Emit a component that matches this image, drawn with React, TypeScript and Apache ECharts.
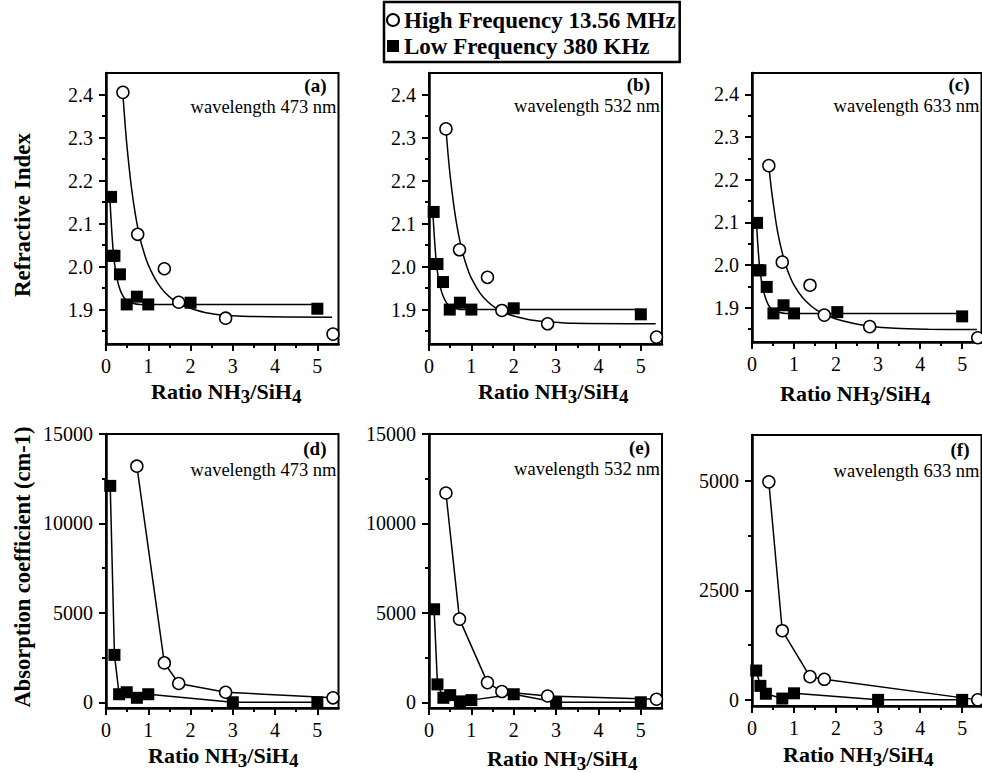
import React, { useEffect, useRef } from 'react';
import * as echarts from 'echarts';

const FONT = "'Liberation Serif', 'Times New Roman', serif";
const HF_NAME = 'High Frequency 13.56 MHz';
const LF_NAME = 'Low Frequency 380 KHz';

// tick values
const X_TICKS = [0, 1, 2, 3, 4, 5];
const X_MINOR = [0.5, 1.5, 2.5, 3.5, 4.5];
const RI_TICKS = [1.9, 2.0, 2.1, 2.2, 2.3, 2.4];
const RI_MINOR = [1.85, 1.95, 2.05, 2.15, 2.25, 2.35];
const ABS_TICKS = [0, 5000, 10000, 15000];
const ABS_MINOR = [2500, 7500, 12500];
const ABS_F_TICKS = [0, 2500, 5000];
const ABS_F_MINOR = [1250, 3750];

// (a) refractive index, 473 nm
const A_HF = [[0.4, 2.405], [0.75, 2.075], [1.38, 1.995], [1.72, 1.917], [2.83, 1.88], [5.37, 1.843]];
const A_HF_FIT = [[0.4, 2.4], [0.45, 2.333], [0.5, 2.276], [0.6, 2.185], [0.7, 2.118], [0.8, 2.068], [0.9, 2.032], [1.0, 2.004], [1.2, 1.965], [1.4, 1.939], [1.6, 1.922], [1.8, 1.91], [2.0, 1.903], [2.4, 1.892], [2.8, 1.887], [3.4, 1.884], [5.35, 1.882]];
const A_LF = [[0.12, 2.162], [0.14, 2.025], [0.2, 2.025], [0.33, 1.982], [0.49, 1.912], [0.73, 1.93], [1.0, 1.912], [2.0, 1.916], [5.0, 1.902]];
const A_LF_FIT = [[0.09, 2.162], [0.13, 2.092], [0.175, 2.03], [0.22, 1.995], [0.27, 1.968], [0.33, 1.947], [0.41, 1.93], [0.5, 1.92], [0.65, 1.914], [0.8, 1.912], [5.0, 1.912]];

// (b) refractive index, 532 nm
const B_HF = [[0.4, 2.32], [0.72, 2.039], [1.38, 1.975], [1.72, 1.898], [2.8, 1.867], [5.37, 1.836]];
const B_HF_FIT = [[0.4, 2.32], [0.45, 2.261], [0.5, 2.211], [0.6, 2.132], [0.7, 2.073], [0.8, 2.03], [0.9, 1.998], [1.0, 1.973], [1.2, 1.939], [1.4, 1.917], [1.6, 1.902], [1.8, 1.892], [2.0, 1.885], [2.4, 1.876], [2.8, 1.872], [3.4, 1.868], [5.35, 1.867]];
const B_LF = [[0.11, 2.127], [0.14, 2.006], [0.2, 2.006], [0.33, 1.964], [0.49, 1.9], [0.73, 1.916], [1.0, 1.9], [2.0, 1.903], [5.0, 1.889]];
const B_LF_FIT = [[0.09, 2.127], [0.13, 2.063], [0.175, 2.007], [0.22, 1.975], [0.27, 1.951], [0.33, 1.932], [0.41, 1.916], [0.5, 1.907], [0.65, 1.902], [0.8, 1.9], [5.0, 1.9]];

// (c) refractive index, 633 nm
const C_HF = [[0.4, 2.233], [0.72, 2.007], [1.38, 1.953], [1.72, 1.883], [2.8, 1.856], [5.37, 1.83]];
const C_HF_FIT = [[0.4, 2.233], [0.45, 2.187], [0.5, 2.149], [0.6, 2.083], [0.7, 2.037], [0.8, 2.001], [0.9, 1.974], [1.0, 1.953], [1.2, 1.924], [1.4, 1.905], [1.6, 1.891], [1.8, 1.882], [2.0, 1.874], [2.4, 1.864], [2.8, 1.857], [3.4, 1.852], [4.2, 1.85], [5.35, 1.849]];
const C_LF = [[0.12, 2.099], [0.14, 1.988], [0.2, 1.988], [0.35, 1.949], [0.51, 1.887], [0.75, 1.906], [1.0, 1.887], [2.03, 1.89], [5.0, 1.88]];
const C_LF_FIT = [[0.1, 2.108], [0.14, 2.046], [0.185, 1.991], [0.23, 1.96], [0.28, 1.937], [0.34, 1.918], [0.42, 1.902], [0.51, 1.894], [0.66, 1.889], [0.8, 1.887], [5.0, 1.887]];

// (d) absorption, 473 nm
const D_HF = [[0.73, 13200], [1.38, 2200], [1.72, 1050], [2.83, 560], [5.37, 250]];
const D_LF = [[0.1, 12100], [0.2, 2650], [0.31, 450], [0.49, 560], [0.73, 250], [1.0, 450], [3.0, 0], [5.0, 0]];

// (e) absorption, 532 nm
const E_HF = [[0.4, 11700], [0.72, 4650], [1.38, 1100], [1.72, 600], [2.8, 350], [5.37, 170]];
const E_LF = [[0.12, 5200], [0.2, 1000], [0.34, 250], [0.5, 400], [0.73, 50], [1.0, 120], [2.0, 450], [3.0, 0], [5.0, 0]];

// (f) absorption, 633 nm
const F_HF = [[0.4, 4980], [0.72, 1580], [1.38, 530], [1.72, 470], [5.37, 0]];
const F_LF = [[0.1, 670], [0.2, 320], [0.33, 140], [0.72, 30], [1.0, 150], [3.0, 0], [5.0, 0]];

const PANEL_TAGS = ['(a)', '(b)', '(c)', '(d)', '(e)', '(f)'];
const WAVELENGTHS = ['wavelength 473 nm', 'wavelength 532 nm', 'wavelength 633 nm', 'wavelength 473 nm', 'wavelength 532 nm', 'wavelength 633 nm'];

const LAYOUT = [
  { left: 106, top: 73, right: 338.5, bottom: 344, xMax: 5.5, tx: 151, ty: 391, tagDy: 12, wlDy: 34 },
  { left: 429, top: 73, right: 662, bottom: 344, xMax: 5.5, tx: 478, ty: 391, tagDy: 11, wlDy: 33 },
  { left: 752, top: 73, right: 981.5, bottom: 342, xMax: 5.46, tx: 780, ty: 393, tagDy: 11, wlDy: 33 },
  { left: 106, top: 434, right: 338.5, bottom: 708, xMax: 5.5, tx: 148, ty: 755, tagDy: 14, wlDy: 36 },
  { left: 429, top: 434, right: 662, bottom: 708, xMax: 5.5, tx: 487, ty: 758, tagDy: 13, wlDy: 35 },
  { left: 752, top: 435, right: 981.5, bottom: 706, xMax: 5.46, tx: 783, ty: 754, tagDy: 14, wlDy: 36 },
];

const Y_CFG = [
  { min: 1.82, max: 2.45, ticks: RI_TICKS, minor: RI_MINOR, fmt: (v: number) => v.toFixed(1) },
  { min: 1.82, max: 2.45, ticks: RI_TICKS, minor: RI_MINOR, fmt: (v: number) => v.toFixed(1) },
  { min: 1.82, max: 2.45, ticks: RI_TICKS, minor: RI_MINOR, fmt: (v: number) => v.toFixed(1) },
  { min: -320, max: 15000, ticks: ABS_TICKS, minor: ABS_MINOR, fmt: (v: number) => String(Math.round(v)) },
  { min: -320, max: 15000, ticks: ABS_TICKS, minor: ABS_MINOR, fmt: (v: number) => String(Math.round(v)) },
  { min: -140, max: 6050, ticks: ABS_F_TICKS, minor: ABS_F_MINOR, fmt: (v: number) => String(Math.round(v)) },
];

const HF_STYLE = { color: '#fff', borderColor: '#000', borderWidth: 1.5, opacity: 1 };
const LF_STYLE = { color: '#000', borderColor: '#000', borderWidth: 0, opacity: 1 };

function buildOption() {
  const grid: any[] = [];
  const xAxis: any[] = [];
  const yAxis: any[] = [];
  const series: any[] = [];
  const graphic: any[] = [];

  LAYOUT.forEach((p, i) => {
    const yc = Y_CFG[i];
    grid.push({
      left: p.left, top: p.top, width: p.right - p.left, height: p.bottom - p.top,
      show: true, borderColor: '#000', borderWidth: 2, backgroundColor: 'transparent',
    });
    const labelStyle = { fontFamily: FONT, fontSize: 20, color: '#000' };
    xAxis.push({
      gridIndex: i, type: 'value', min: 0, max: p.xMax, position: 'bottom',
      axisLine: { show: true, onZero: false, lineStyle: { color: '#000', width: 2.5 } },
      axisTick: { show: true, inside: false, length: 7, customValues: X_TICKS, lineStyle: { color: '#000', width: 2 } },
      axisLabel: { show: true, customValues: X_TICKS, margin: 15, lineHeight: 14, ...labelStyle },
      splitLine: { show: false },
    });
    xAxis.push({
      gridIndex: i, type: 'value', min: 0, max: p.xMax, position: 'bottom',
      axisLine: { show: false, onZero: false },
      axisTick: { show: true, inside: false, length: 4, customValues: X_MINOR, lineStyle: { color: '#000', width: 2 } },
      axisLabel: { show: false },
      splitLine: { show: false },
    });
    yAxis.push({
      gridIndex: i, type: 'value', min: yc.min, max: yc.max, position: 'left',
      axisLine: { show: true, onZero: false, lineStyle: { color: '#000', width: 2.5 } },
      axisTick: { show: true, inside: false, length: 7, customValues: yc.ticks, lineStyle: { color: '#000', width: 2 } },
      axisLabel: { show: true, customValues: yc.ticks, margin: 13, formatter: yc.fmt, ...labelStyle },
      splitLine: { show: false },
    });
    yAxis.push({
      gridIndex: i, type: 'value', min: yc.min, max: yc.max, position: 'left',
      axisLine: { show: false, onZero: false },
      axisTick: { show: true, inside: false, length: 4, customValues: yc.minor, lineStyle: { color: '#000', width: 2 } },
      axisLabel: { show: false },
      splitLine: { show: false },
    });

    // panel texts
    graphic.push({
      type: 'text', x: p.right - 12, y: p.top + p.tagDy, z: 10,
      style: { text: PANEL_TAGS[i], fill: '#000', font: `bold 19px ${FONT}`, lineHeight: 14, align: 'right', verticalAlign: 'middle' },
    });
    graphic.push({
      type: 'text', x: p.right - 2, y: p.top + p.wlDy, z: 10,
      style: { text: WAVELENGTHS[i], fill: '#000', font: `18.5px ${FONT}`, lineHeight: 14, align: 'right', verticalAlign: 'middle' },
    });
    graphic.push({
      type: 'text', x: p.tx, y: p.ty, z: 10,
      style: {
        text: '{n|Ratio NH}{s|3}{n|/SiH}{s|4}', fill: '#000', align: 'left', verticalAlign: 'middle',
        rich: {
          n: { fontFamily: FONT, fontWeight: 'bold', fontSize: 22, lineHeight: 18, fill: '#000' },
          s: { fontFamily: FONT, fontWeight: 'bold', fontSize: 19, lineHeight: 18, fill: '#000', padding: [10, 0, 0, 0] },
        },
      },
    });
  });

  const idx = (i: number) => ({ xAxisIndex: 2 * i, yAxisIndex: 2 * i });
  const scatterHF = (i: number, d: number[][]) => ({
    name: HF_NAME, type: 'scatter', ...idx(i), data: d, symbol: 'circle', symbolSize: 12,
    itemStyle: HF_STYLE, z: 4, emphasis: { disabled: true },
  });
  const scatterLF = (i: number, d: number[][]) => ({
    name: LF_NAME, type: 'scatter', ...idx(i), data: d, symbol: 'rect', symbolSize: 12,
    itemStyle: LF_STYLE, z: 3, emphasis: { disabled: true },
  });
  const fit = (i: number, d: number[][], nm: string) => ({
    name: nm, type: 'line', ...idx(i), data: d, smooth: 0.3, showSymbol: false,
    lineStyle: { color: '#000', width: 1.5 }, z: 2,
  });
  const lineHF = (i: number, d: number[][]) => ({
    name: HF_NAME, type: 'line', ...idx(i), data: d, symbol: 'circle', symbolSize: 12, showSymbol: true,
    itemStyle: HF_STYLE, lineStyle: { color: '#000', width: 1.5 }, z: 4, emphasis: { disabled: true },
  });
  const lineLF = (i: number, d: number[][]) => ({
    name: LF_NAME, type: 'line', ...idx(i), data: d, symbol: 'rect', symbolSize: 12, showSymbol: true,
    itemStyle: LF_STYLE, lineStyle: { color: '#000', width: 1.5 }, z: 3, emphasis: { disabled: true },
  });

  series.push(scatterHF(0, A_HF), scatterLF(0, A_LF), fit(0, A_HF_FIT, 'fit-hf-a'), fit(0, A_LF_FIT, 'fit-lf-a'));
  series.push(scatterHF(1, B_HF), scatterLF(1, B_LF), fit(1, B_HF_FIT, 'fit-hf-b'), fit(1, B_LF_FIT, 'fit-lf-b'));
  series.push(scatterHF(2, C_HF), scatterLF(2, C_LF), fit(2, C_HF_FIT, 'fit-hf-c'), fit(2, C_LF_FIT, 'fit-lf-c'));
  series.push(lineHF(3, D_HF), lineLF(3, D_LF));
  series.push(lineHF(4, E_HF), lineLF(4, E_LF));
  series.push(lineHF(5, F_HF), lineLF(5, F_LF));

  graphic.push({
    type: 'text', x: 22, y: 215, rotation: Math.PI / 2, z: 10,
    style: { text: 'Refractive Index', fill: '#000', font: `bold 23px ${FONT}`, align: 'center', verticalAlign: 'middle' },
  });
  graphic.push({
    type: 'text', x: 22, y: 567, rotation: Math.PI / 2, z: 10,
    style: { text: 'Absorption coefficient (cm-1)', fill: '#000', font: `bold 22.5px ${FONT}`, align: 'center', verticalAlign: 'middle' },
  });

  return {
    animation: false,
    backgroundColor: '#fff',
    legend: {
      data: [HF_NAME, LF_NAME], orient: 'vertical', left: 384, top: 2,
      padding: [6, 4, 4, 2], itemGap: 2, itemWidth: 12, itemHeight: 12,
      borderColor: '#000', borderWidth: 2.5, backgroundColor: '#fff', selectedMode: false,
      textStyle: { fontFamily: FONT, fontWeight: 'bold', fontSize: 23, color: '#000', lineHeight: 24 },
    },
    grid, xAxis, yAxis, series, graphic,
  };
}

export default function App() {
  const ref = useRef<HTMLDivElement>(null);
  useEffect(() => {
    if (!ref.current) return;
    const chart = echarts.init(ref.current, undefined, { renderer: 'svg' });
    chart.setOption(buildOption() as any);
    return () => chart.dispose();
  }, []);
  return <div ref={ref} style={{ position: 'absolute', left: 0, top: 0, width: 982, height: 773, background: '#fff' }} />;
}
